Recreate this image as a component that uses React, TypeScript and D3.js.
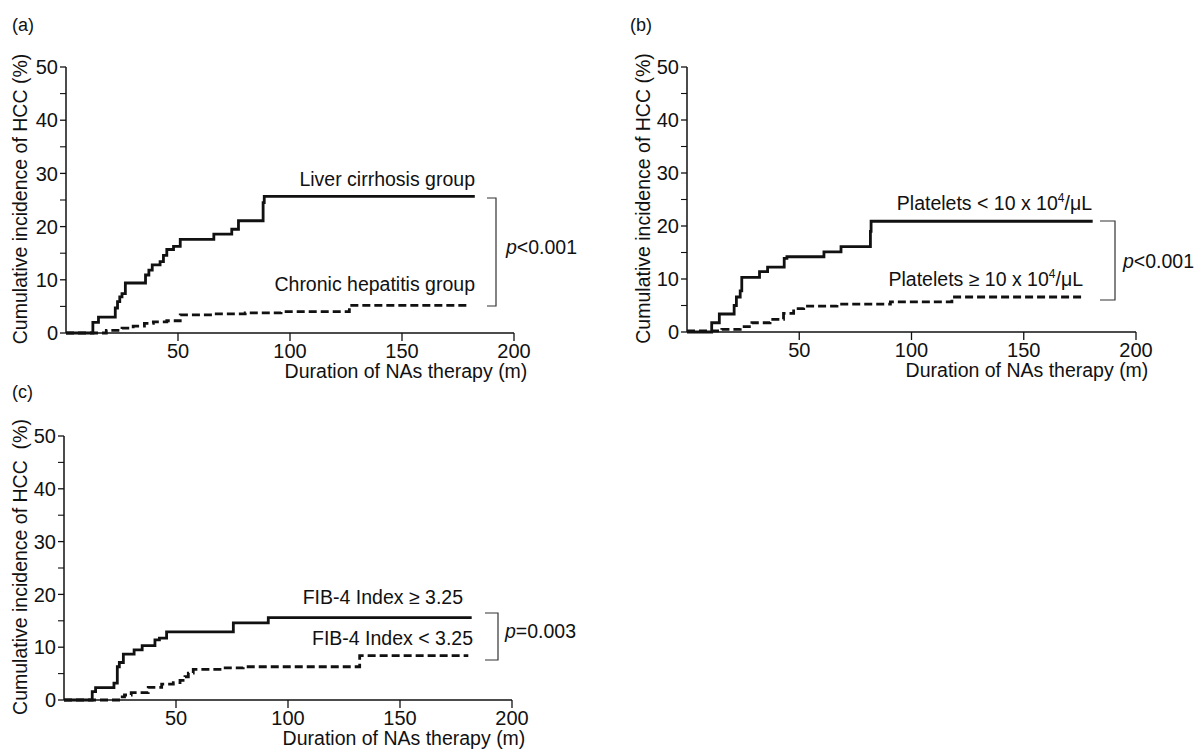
import React from 'react'
import * as d3 from 'd3'

// [months, cumulative incidence %] step points
const cirrhosis: [number, number][] = [
  [0, 0], [12, 2.0], [14.5, 3.0], [22, 4.7], [23, 5.9], [24, 6.8], [25, 7.4],
  [26.5, 9.4], [35.5, 10.9], [37, 11.8], [38.5, 12.8], [42, 13.4], [43.5, 14.6],
  [45, 15.7], [48, 16.3], [51, 17.6], [66, 18.6], [74, 19.5], [77, 21.1],
  [88, 24.5], [88.5, 25.7], [182.5, 25.7],
]
const chronicHepatitis: [number, number][] = [
  [0, 0], [18, 0.5], [25, 0.9], [30, 1.3], [35, 1.8], [39, 2.1], [45, 2.3],
  [51, 3.4], [66, 3.6], [80, 3.8], [96, 4.0], [126.5, 5.2], [179, 5.2],
]

const plateletsLow: [number, number][] = [
  [0, 0], [11, 1.75], [14.4, 3.4], [21, 5.0], [22, 6.6], [23.7, 7.75],
  [24.4, 10.3], [32.3, 11.4], [35.9, 12.25], [43.3, 13.9], [44.5, 14.2],
  [61, 15.1], [68.6, 16.1], [81.7, 19.0], [82, 20.9], [180.7, 20.9],
]
const plateletsHigh: [number, number][] = [
  [0, 0.2], [15.5, 0.5], [23.7, 1.0], [28.9, 1.75], [37, 2.4], [43, 3.5],
  [47.5, 4.4], [52, 4.9], [66.8, 5.25], [90.6, 5.7], [118, 6.6], [176.2, 6.6],
]

const fibHigh: [number, number][] = [
  [0, 0], [12.6, 1.6], [14.1, 2.35], [22.3, 3.2], [23.8, 6.3], [24.7, 7.1],
  [26.5, 8.7], [31.3, 9.5], [34.9, 10.3], [40.6, 11.4], [42.6, 11.7],
  [45.8, 12.9], [75.6, 14.6], [91.2, 15.6], [182, 15.6],
]
const fibLow: [number, number][] = [
  [0, 0], [25, 0.6], [27, 0.95], [30, 1.4], [37.6, 2.4], [43.6, 3.0],
  [48.8, 3.3], [51.8, 3.7], [54, 4.4], [55.5, 5.1], [57.7, 5.8], [71, 6.1],
  [80, 6.3], [132, 8.4], [180.5, 8.4],
]

const xTicks = [50, 100, 150, 200]
const yTicks = [0, 10, 20, 30, 40, 50]
const yMinorTicks = [5, 15, 25, 35, 45]

const FONT = 'Liberation Sans, Arial, Helvetica, sans-serif'

function Sup({ children }: { children: React.ReactNode }) {
  return (
    <tspan fontSize="12" dy="-8">
      {children}
    </tspan>
  )
}

function Panel({
  tag,
  x0,
  x1,
  yTop,
  yBottom,
  solid,
  dashed,
  yTitle,
  yTitleX,
  titleX,
  solidLabel,
  dashedLabel,
  pText,
  bracket,
}: any) {
  const x = d3.scaleLinear().domain([0, 200]).range([x0, x1])
  const y = d3.scaleLinear().domain([0, 50]).range([yBottom, yTop])
  const line = d3
    .line<[number, number]>()
    .x((d) => x(d[0]))
    .y((d) => y(d[1]))
    .curve(d3.curveStepAfter)

  const yMid = (yTop + yBottom) / 2

  return (
    <g fontFamily={FONT} fill="#111">
      <text x={tag.x} y={tag.y} fontSize="18">
        {tag.text}
      </text>

      {/* axes */}
      <line x1={x0} x2={x0} y1={yTop} y2={yBottom} stroke="#111" strokeWidth={1.5} />
      <line x1={x0} x2={x1} y1={yBottom} y2={yBottom} stroke="#111" strokeWidth={1.5} />
      {yTicks.map((t) => (
        <g key={'y' + t}>
          <line x1={x0 - 6} x2={x0} y1={y(t)} y2={y(t)} stroke="#111" strokeWidth={1.3} />
          <text x={x0 - 8} y={y(t)} dy="0.36em" textAnchor="end" fontSize="20">
            {t}
          </text>
        </g>
      ))}
      {yMinorTicks.map((t) => (
        <line key={'m' + t} x1={x0 - 6} x2={x0} y1={y(t)} y2={y(t)} stroke="#111" strokeWidth={1.1} />
      ))}
      {xTicks.map((t) => (
        <g key={'x' + t}>
          <line x1={x(t)} x2={x(t)} y1={yBottom} y2={yBottom + 8} stroke="#111" strokeWidth={1.3} />
          <text x={x(t)} y={yBottom + 25} textAnchor="middle" fontSize="20">
            {t}
          </text>
        </g>
      ))}
      <text
        transform={`translate(${yTitleX},${yMid - 1}) rotate(-90)`}
        textAnchor="middle"
        fontSize="19.5"
        style={{ whiteSpace: 'pre' }}
      >
        {yTitle}
      </text>
      <text x={titleX} y={yBottom + 45} textAnchor="middle" fontSize="19.5">
        Duration of NAs therapy (m)
      </text>

      {/* curves */}
      <path d={line(dashed) || ''} fill="none" stroke="#111" strokeWidth={2.8} strokeDasharray="8,4" />
      <path d={line(solid) || ''} fill="none" stroke="#111" strokeWidth={2.8} />

      {/* labels */}
      <text x={solidLabel.x} y={solidLabel.y} textAnchor="end" fontSize="19.5">
        {solidLabel.content}
      </text>
      <text x={dashedLabel.x} y={dashedLabel.y} textAnchor="end" fontSize="19.5">
        {dashedLabel.content}
      </text>
      <path
        d={`M${bracket.xl},${bracket.yt}H${bracket.xr}V${bracket.yb}H${bracket.xl}`}
        fill="none"
        stroke="#333"
        strokeWidth={1.2}
      />
      <text x={pText.x} y={pText.y} fontSize="19.5">
        <tspan fontStyle="italic">p</tspan>
        {pText.rest}
      </text>
    </g>
  )
}

export default function App() {
  return (
    <svg width={1194} height={752} style={{ position: 'absolute', left: 0, top: 0, background: '#fff' }}>
      <rect width={1194} height={752} fill="#fff" />
      <Panel
        tag={{ text: '(a)', x: 12, y: 31 }}
        x0={66}
        x1={514}
        yTop={67}
        yBottom={333}
        solid={cirrhosis}
        dashed={chronicHepatitis}
        yTitle="Cumulative incidence of HCC (%)"
        yTitleX={27}
        titleX={406}
        solidLabel={{ x: 475, y: 186, content: 'Liver cirrhosis group' }}
        dashedLabel={{ x: 475, y: 291, content: 'Chronic hepatitis group' }}
        pText={{ x: 506, y: 254, rest: '<0.001' }}
        bracket={{ xl: 487, xr: 496, yt: 198, yb: 306 }}
      />
      <Panel
        tag={{ text: '(b)', x: 630, y: 31 }}
        x0={687}
        x1={1136}
        yTop={67}
        yBottom={332}
        solid={plateletsLow}
        dashed={plateletsHigh}
        yTitle="Cumulative incidence of HCC (%)"
        yTitleX={650}
        titleX={1027}
        solidLabel={{
          x: 1092,
          y: 210,
          content: (
            <>
              Platelets &lt; 10 x 10<Sup>4</Sup>
              <tspan dy="8">/μL</tspan>
            </>
          ),
        }}
        dashedLabel={{
          x: 1083,
          y: 286,
          content: (
            <>
              Platelets ≥ 10 x 10<Sup>4</Sup>
              <tspan dy="8">/μL</tspan>
            </>
          ),
        }}
        pText={{ x: 1123, y: 268, rest: '<0.001' }}
        bracket={{ xl: 1100, xr: 1115, yt: 221, yb: 300 }}
      />
      <Panel
        tag={{ text: '(c)', x: 12, y: 398 }}
        x0={64}
        x1={512}
        yTop={436}
        yBottom={700}
        solid={fibHigh}
        dashed={fibLow}
        yTitle="Cumulative incidence of HCC  (%)"
        yTitleX={27}
        titleX={404}
        solidLabel={{ x: 463, y: 604, content: 'FIB-4 Index ≥ 3.25' }}
        dashedLabel={{ x: 473, y: 645, content: 'FIB-4 Index < 3.25' }}
        pText={{ x: 505, y: 638, rest: '=0.003' }}
        bracket={{ xl: 485, xr: 498, yt: 613, yb: 660 }}
      />
    </svg>
  )
}
